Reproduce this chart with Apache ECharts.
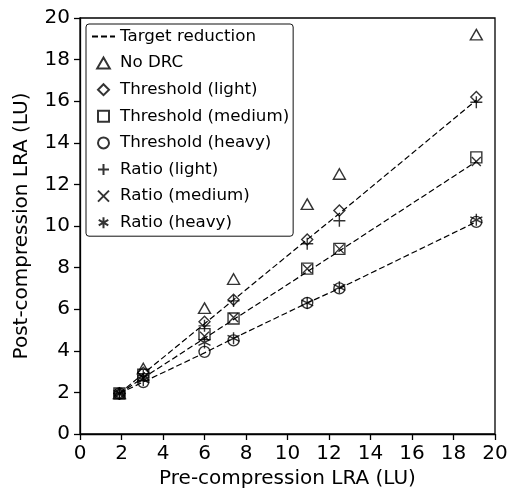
<!DOCTYPE html>
<html>
<head>
<meta charset="utf-8">
<script src="https://cdn.jsdelivr.net/npm/echarts@6/dist/echarts.min.js"></script>
<style>
    html, body { margin: 0; padding: 0; background: #fff; }
</style>
</head>
<body>
<div id="lraChart" style="width: 508px; height: 488px"></div>
<script>
// pre-compression LRA (x) for every measured file
const preLra = [1.9, 3.05, 6.0, 7.4, 10.95, 12.5, 19.1];

// target reduction lines
const targetLight = [1.95, 2.9, 5.3, 6.45, 9.35, 10.6, 16.05];
const targetMedium = [1.95, 2.7, 4.6, 5.5, 7.8, 8.8, 13.1];
const targetHeavy = [1.95, 2.5, 3.9, 4.6, 6.3, 7.0, 10.2];

// post-compression LRA
const noDrc = [1.95, 3.15, 6.05, 7.45, 11.05, 12.5, 19.2];
const thresholdLight = [1.95, 2.95, 5.4, 6.45, 9.35, 10.75, 16.2];
const thresholdMedium = [1.95, 2.85, 4.8, 5.55, 7.95, 8.9, 13.3];
const thresholdHeavy = [1.95, 2.5, 3.95, 4.5, 6.3, 7.0, 10.2];
const ratioLight = [1.95, 2.8, 5.2, 6.4, 9.15, 10.25, 15.95];
const ratioMedium = [1.95, 2.7, 4.7, 5.6, 7.95, 8.9, 13.1];
const ratioHeavy = [1.95, 2.6, 4.4, 4.6, 6.3, 7.05, 10.3];

const axisTicks = [0, 2, 4, 6, 8, 10, 12, 14, 16, 18, 20];

const FONT = 'DejaVu Sans';
const FS = 16.7;   // legend
const AFS = 20;    // axes

function pairs(ys) {
    return preLra.map((x, i) => [x, ys[i]]);
}

// marker shapes as paths so the legend keeps their aspect
const triPath = 'path://M5,0L10,8.7L0,8.7Z';
const diamondPath = 'path://M5,0L10,5L5,10L0,5Z';
const squarePath = 'path://M0,0L10,0L10,10L0,10Z';
const circlePath = 'path://M5,0A5,5 0 1 1 5,10A5,5 0 1 1 5,0Z';
const plusPath = 'path://M5,0L5,10M0,5L10,5';
const crossPath = 'path://M0,0L10,10M10,0L0,10';
const starPath = 'path://M5,0L5,10M0.67,2.5L9.33,7.5M0.67,7.5L9.33,2.5';

function targetSeries(ys) {
    return {
        name: 'Target reduction',
        type: 'line',
        symbol: 'none',
        z: 1,
        itemStyle: { color: 'none', opacity: 0 },
        lineStyle: { color: '#000', width: 1.2, type: [6, 3] },
        data: pairs(ys)
    };
}

function markerSeries(name, ys, symbol, size) {
    return {
        name: name,
        type: 'scatter',
        symbol: symbol,
        symbolSize: size,
        z: 2,
        itemStyle: { color: 'none', borderColor: '#000', borderWidth: 1.4 },
        data: pairs(ys)
    };
}

const myChart = echarts.init(document.getElementById('lraChart'));
const option = {
    animation: false,
    textStyle: { fontFamily: FONT },
    grid: {
        left: 80,
        right: 13,
        top: 18,
        bottom: 54,
        outerBoundsMode: 'none',
        containLabel: false,
        show: true,
        borderColor: '#000',
        borderWidth: 1.3,
        backgroundColor: 'transparent'
    },
    legend: {
        orient: 'vertical',
        left: 86,
        top: 24,
        padding: [4, 4, 5, 5],
        itemGap: 9.6,
        itemWidth: 23,
        itemHeight: 11,
        borderColor: '#111',
        borderWidth: 1,
        borderRadius: 3,
        backgroundColor: '#fff',
        textStyle: { fontFamily: FONT, fontSize: FS, color: '#000' },
        data: [
            { name: 'Target reduction', itemStyle: { opacity: 0 } },
            'No DRC',
            'Threshold (light)',
            'Threshold (medium)',
            'Threshold (heavy)',
            'Ratio (light)',
            'Ratio (medium)',
            'Ratio (heavy)'
        ]
    },
    xAxis: {
        type: 'value',
        min: axisTicks[0],
        max: axisTicks[axisTicks.length - 1],
        interval: 2,
        name: 'Pre-compression LRA (LU)',
        nameLocation: 'middle',
        nameGap: 30,
        nameTextStyle: { fontFamily: FONT, fontSize: AFS, color: '#000' },
        axisLine: { lineStyle: { color: '#000', width: 1.3 } },
        axisTick: { show: true, length: 6, lineStyle: { color: '#000', width: 1.3 } },
        axisLabel: { fontFamily: FONT, fontSize: AFS, color: '#000', margin: 10 },
        splitLine: { show: false }
    },
    yAxis: {
        type: 'value',
        min: axisTicks[0],
        max: axisTicks[axisTicks.length - 1],
        interval: 2,
        name: 'Post-compression LRA (LU)',
        nameLocation: 'middle',
        nameGap: 48,
        nameTextStyle: { fontFamily: FONT, fontSize: AFS, color: '#000' },
        axisLine: { show: true, lineStyle: { color: '#000', width: 1.3 } },
        axisTick: { show: true, length: 6, lineStyle: { color: '#000', width: 1.3 } },
        axisLabel: { fontFamily: FONT, fontSize: AFS, color: '#000', margin: 10 },
        splitLine: { show: false }
    },
    series: [
        targetSeries(targetLight),
        targetSeries(targetMedium),
        targetSeries(targetHeavy),
        markerSeries('No DRC', noDrc, triPath, [12, 10.5]),
        markerSeries('Threshold (light)', thresholdLight, diamondPath, [11, 11]),
        markerSeries('Threshold (medium)', thresholdMedium, squarePath, [11, 11]),
        markerSeries('Threshold (heavy)', thresholdHeavy, circlePath, [11, 11]),
        markerSeries('Ratio (light)', ratioLight, plusPath, [12, 12]),
        markerSeries('Ratio (medium)', ratioMedium, crossPath, [9, 9]),
        markerSeries('Ratio (heavy)', ratioHeavy, starPath, [12, 12])
    ]
};
myChart.setOption(option);
</script>
</body>
</html>
